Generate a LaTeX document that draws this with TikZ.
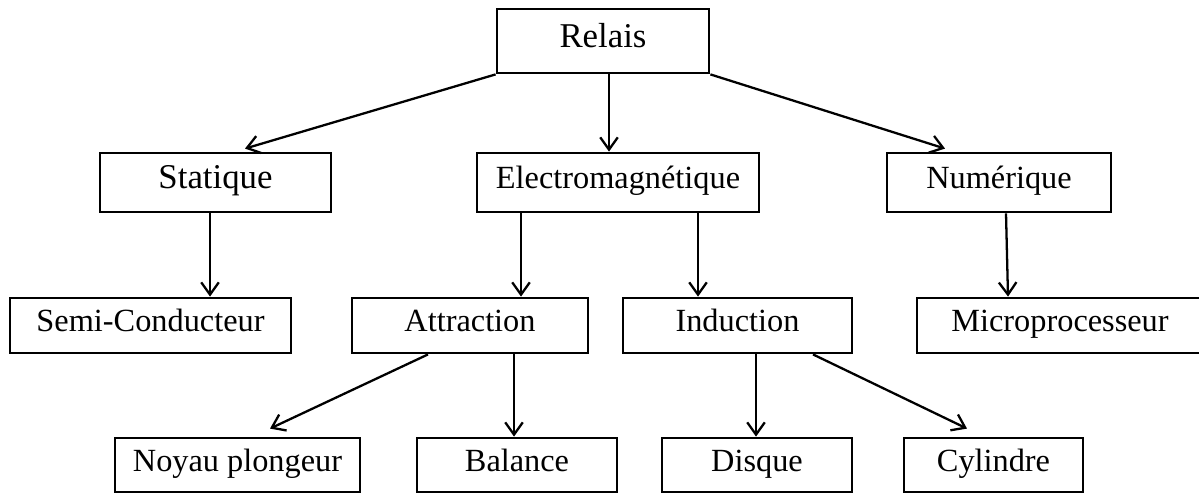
\documentclass[tikz,border=0pt]{standalone}
\usepackage{fontspec}
\setmainfont{Liberation Serif}
\usetikzlibrary{arrows.meta,calc}

% box given by its left, top, right, bottom edges (px units)
\newcommand\treebox[7][]{%
  \node[bx,#1,minimum width={(#5-#3)*0.02cm},minimum height={(#6-#4)*0.02cm}]
    (#2) at ({(#3+#5)/2},{(#4+#6)/2}) {#7};}

\begin{document}
\begin{tikzpicture}[x=0.02cm,y=-0.02cm,
  bx/.style={draw=black,line width=1.6pt,inner sep=0pt,
    font=\fontsize{18.4}{22}\selectfont,text height=0.92em,text depth=0.2em},
  bigtxt/.style={font=\fontsize{19.8}{24}\selectfont},
  arr/.style={draw=black,line width=1.3pt,
    -{Straight Barb[length=7pt,width=10pt,line width=1.3pt]}}]
\useasboundingbox (0,0) rectangle (1199,493);

% level 0
\treebox[bigtxt]{relais}{497}{9}{709}{73}{Relais}
% level 1
\treebox[bigtxt]{statique}{100}{153}{331}{212}{Statique}
\treebox{electro}{477}{153}{759}{212}{Electromagnétique}
\treebox{numerique}{887}{153}{1111}{212}{Numérique}
% level 2
\treebox{semi}{10}{298}{291}{353}{Semi-Conducteur}
\treebox{attraction}{352}{298}{588}{353}{Attraction}
\treebox{induction}{623}{298}{852}{353}{Induction}
\treebox{micro}{917}{298}{1203}{353}{Microprocesseur}
% level 3
\treebox{noyau}{115}{438}{360}{492}{Noyau plongeur}
\treebox{balance}{417}{438}{617}{492}{Balance}
\treebox{disque}{662}{438}{852}{492}{Disque}
\treebox{cylindre}{904}{438}{1083}{492}{Cylindre}

% connectors
\draw[arr] (relais.south west) -- ($(statique.north -| 245,0)+(0,-3)$);
\draw[arr] (relais.south -| 609,0) -- (electro.north -| 609,0);
\draw[arr] (relais.south east) -- ($(numerique.north -| 945,0)+(0,-3)$);

\draw[arr] (statique.south -| 210,0) -- (semi.north -| 210,0);
\draw[arr] (electro.south -| 521,0) -- (attraction.north -| 521,0);
\draw[arr] (electro.south -| 698,0) -- (induction.north -| 698,0);
\draw[arr] (numerique.south -| 1006,0) -- (micro.north -| 1008,0);

\draw[arr] (attraction.south -| 428,0) -- ($(noyau.north -| 270,0)+(0,-8)$);
\draw[arr] (attraction.south -| 514,0) -- (balance.north -| 514,0);
\draw[arr] (induction.south -| 756,0) -- (disque.north -| 756,0);
\draw[arr] (induction.south -| 813,0) -- ($(cylindre.north -| 967,0)+(0,-8)$);
\end{tikzpicture}
\end{document}
